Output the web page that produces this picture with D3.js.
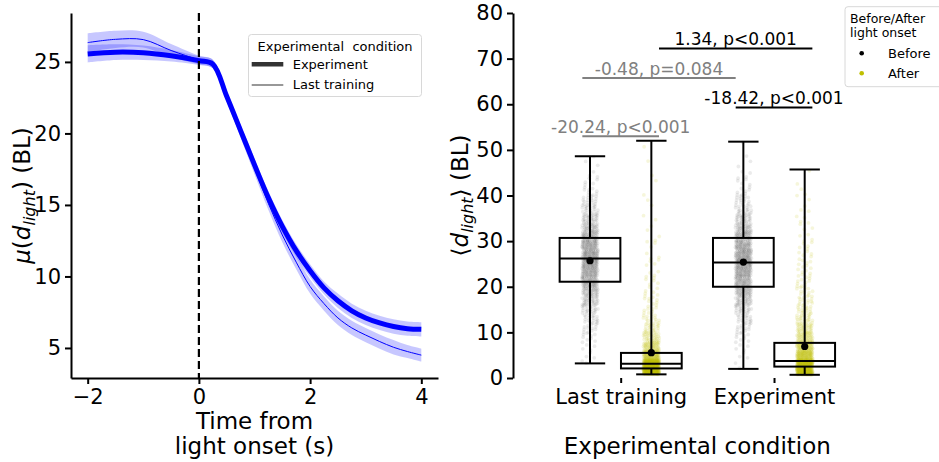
<!DOCTYPE html>
<html>
<head>
<meta charset="UTF-8">
<title>Light onset distance</title>
<script src="https://cdn.jsdelivr.net/npm/d3@7"></script>
<style>
  body { margin: 0; background: #fff; }
  svg { font-family: "DejaVu Sans", sans-serif; }
  .axis path, .axis line { stroke: #000; stroke-width: 2; }
  .axis text { font-size: 21px; fill: #000; font-family: "DejaVu Sans", sans-serif; }
</style>
</head>
<body>
<svg id="fig" width="939" height="462"></svg>
<script>

  // ---- left panel: mean distance over time ----
  var timePts = [-2, -1.5, -1, -0.5, 0, 0.25, 0.5, 0.75, 1, 1.25, 1.5, 1.75, 2, 2.25, 2.5, 2.75, 3, 3.25, 3.5, 3.75, 4];
  var expMean = [25.56, 25.68, 25.64, 25.43, 25.09, 24.85, 22.6, 20.2, 17.8, 15.5, 13.5, 11.8, 10.4, 9.2, 8.3, 7.6, 7.1, 6.75, 6.5, 6.35, 6.3];
  var expCi   = [0.6, 0.55, 0.5, 0.4, 0.3, 0.3, 0.35, 0.4, 0.45, 0.45, 0.45, 0.45, 0.45, 0.45, 0.5, 0.5, 0.5, 0.5, 0.5, 0.5, 0.5];
  var ltMean  = [26.35, 26.58, 26.56, 25.8, 25.14, 24.85, 22.6, 20.1, 17.6, 15.1, 12.9, 11.0, 9.3, 8.1, 7.1, 6.4, 5.9, 5.45, 5.05, 4.75, 4.5];
  var ltCi    = [0.65, 0.6, 0.55, 0.45, 0.3, 0.3, 0.35, 0.4, 0.45, 0.45, 0.5, 0.5, 0.5, 0.5, 0.5, 0.5, 0.5, 0.5, 0.5, 0.45, 0.45];
  var lineSeries = ['Experiment', 'Last training'];
  var lineWidths = [5, 1];
  var leftYTicks = [5, 10, 15, 20, 25];
  var leftXTicks = [-2, 0, 2, 4];

  // ---- right panel: box plots ----
  var condCats = ['Last training', 'Experiment'];
  var hueLevels = ['Before', 'After'];
  var hueColors = ['#000000', '#bfbf00'];
  var boxCat  = [0, 0, 1, 1];
  var boxHue  = [0, 1, 0, 1];
  var whisLow = [3.2, 0.8, 2.0, 0.7];
  var q1      = [21.1, 2.1, 20.0, 2.5];
  var median  = [26.2, 3.1, 25.3, 3.7];
  var q3      = [30.7, 5.5, 30.7, 7.7];
  var whisHigh = [48.6, 52.0, 51.8, 45.7];
  var means   = [25.7, 5.55, 25.4, 6.9];
  // point counts per 2-unit bin (bin lower edges below)
  var binLow = [0, 2, 4, 6, 8, 10, 12, 14, 16, 18, 20, 22, 24, 26, 28, 30, 32, 34, 36, 38, 40, 42, 44, 46, 48, 50, 52];
  var ltBeforeCounts  = [0, 2, 3, 5, 8, 12, 18, 25, 35, 45, 55, 65, 70, 70, 65, 55, 42, 32, 22, 15, 9, 5, 3, 2, 1, 0, 0];
  var ltAfterCounts   = [170, 260, 110, 60, 35, 22, 15, 10, 8, 6, 5, 4, 4, 3, 3, 2, 2, 2, 1, 1, 1, 1, 1, 1, 0, 1, 0];
  var expBeforeCounts = [0, 2, 3, 5, 8, 12, 18, 26, 36, 48, 58, 66, 70, 68, 62, 52, 40, 30, 20, 13, 8, 5, 3, 2, 1, 1, 0];
  var expAfterCounts  = [150, 220, 120, 80, 50, 35, 25, 18, 14, 11, 9, 8, 7, 6, 5, 4, 4, 3, 3, 2, 2, 1, 1, 0, 0, 0, 0];
  var pointCounts = [ltBeforeCounts, ltAfterCounts, expBeforeCounts, expAfterCounts];
  var rightYTicks = [0, 10, 20, 30, 40, 50, 60, 70, 80];

  // significance brackets
  var statLabels = ['-20.24, p<0.001', '-0.48, p=0.084', '1.34, p<0.001', '-18.42, p<0.001'];
  var statX1 = [-0.25, -0.25, 0.25, 0.75];
  var statX2 = [0.25, 0.75, 1.25, 1.25];
  var statY  = [53.0, 65.75, 72.2, 59.3];
  var statColors = ['#808080', '#808080', '#000000', '#000000'];

  var svg = d3.select('#fig');

  // ================= LEFT =================
  var xL = d3.scaleLinear().domain([-2.3, 4.3]).range([71, 438]);
  var yL = d3.scaleLinear().domain([2.9, 28.42]).range([378, 13]);
  var left = svg.append('g');

  var seriesData = [
    { mean: expMean, ci: expCi },
    { mean: ltMean, ci: ltCi }
  ];

  var area = d3.area()
    .x(function (d) { return xL(d.t); })
    .y0(function (d) { return yL(d.m - d.c); })
    .y1(function (d) { return yL(d.m + d.c); })
    .curve(d3.curveCatmullRom);
  var line = d3.line()
    .x(function (d) { return xL(d.t); })
    .y(function (d) { return yL(d.m); })
    .curve(d3.curveCatmullRom);

  var rows = seriesData.map(function (s) {
    return timePts.map(function (t, i) { return { t: t, m: s.mean[i], c: s.ci[i] }; });
  });

  rows.forEach(function (r) {
    left.append('path').attr('d', area(r))
      .attr('fill', '#0000ff').attr('fill-opacity', 0.22);
  });
  rows.forEach(function (r, i) {
    left.append('path').attr('d', line(r))
      .attr('fill', 'none').attr('stroke', '#0000ff')
      .attr('stroke-width', lineWidths[i]);
  });

  // light onset marker
  left.append('line')
    .attr('x1', xL(0)).attr('x2', xL(0))
    .attr('y1', yL.range()[1]).attr('y2', yL.range()[0])
    .attr('stroke', '#000').attr('stroke-width', 2.2)
    .attr('stroke-dasharray', '8,4');

  left.append('g').attr('class', 'axis')
    .attr('transform', 'translate(71,0)')
    .call(d3.axisLeft(yL).tickValues(leftYTicks).tickSize(6).tickPadding(4).tickSizeOuter(0));
  left.append('g').attr('class', 'axis')
    .attr('transform', 'translate(0,378)')
    .call(d3.axisBottom(xL).tickValues(leftXTicks).tickSize(6).tickPadding(5).tickSizeOuter(0)
      .tickFormat(d3.format('d')));

  // axis labels
  var xlab = left.append('text').attr('text-anchor', 'middle').style('font-size', '23px');
  xlab.append('tspan').attr('x', 254.5).attr('y', 428.5).text('Time from');
  xlab.append('tspan').attr('x', 254.5).attr('y', 453.5).text('light onset (s)');

  var ylab = left.append('text')
    .attr('transform', 'translate(30,195.5) rotate(-90)')
    .attr('text-anchor', 'middle').style('font-size', '23px');
  ylab.append('tspan').style('font-style', 'italic').text('\u03bc');
  ylab.append('tspan').text('(');
  ylab.append('tspan').style('font-style', 'italic').text('d');
  ylab.append('tspan').style('font-style', 'italic').style('font-size', '16px').attr('dy', 5).text('light');
  ylab.append('tspan').attr('dy', -5).text(') (BL)');

  // legend
  var lg = left.append('g');
  lg.append('rect').attr('x', 248.5).attr('y', 34.5).attr('width', 173).attr('height', 62)
    .attr('rx', 3).attr('fill', '#fff').attr('fill-opacity', 0.8)
    .attr('stroke', '#d8d8d8').attr('stroke-width', 1);
  lg.append('text').attr('x', 335).attr('y', 50.5).attr('text-anchor', 'middle')
    .style('font-size', '13px').style('white-space', 'pre').text('Experimental  condition');
  lineSeries.forEach(function (name, i) {
    var yy = 64.3 + i * 20.7;
    lg.append('line').attr('x1', 251.7).attr('x2', 283.3).attr('y1', yy).attr('y2', yy)
      .attr('stroke', '#333').attr('stroke-width', i === 0 ? 4.5 : 1.1);
    lg.append('text').attr('x', 292.7).attr('y', yy + 4.3)
      .style('font-size', '13px').text(name);
  });

  // ================= RIGHT =================
  var xR = d3.scaleLinear().domain([-0.5, 1.5]).range([544, 850.7]);
  var yR = d3.scaleLinear().domain([0, 80]).range([378, 13]);
  var right = svg.append('g');
  var hueOffset = [-0.2, 0.2];
  var boxW = xR(0.396) - xR(0);

  // jittered strip points (R2 low-discrepancy placement inside each bin)
  var a1 = 0.7548776662, a2 = 0.5698402910;
  pointCounts.forEach(function (counts, g) {
    var cx = xR(boxCat[g] + hueOffset[boxHue[g]]);
    var pts = [];
    var k = 0;
    counts.forEach(function (n, b) {
      var lo = Math.max(binLow[b], whisLow[g]);
      var hi = Math.min(binLow[b] + 2, whisHigh[g]);
      for (var j = 0; j < n; j++) {
        k++;
        var fx = (0.5 + k * a1) % 1;
        var fy = (0.5 + k * a2) % 1;
        pts.push({ v: lo + (hi - lo) * fy, dx: (fx - 0.5) * 16 });
      }
    });
    right.append('g').selectAll('circle').data(pts).enter().append('circle')
      .attr('cx', function (d) { return cx + d.dx; })
      .attr('cy', function (d) { return yR(d.v); })
      .attr('r', 1.9)
      .attr('fill', hueColors[boxHue[g]])
      .attr('fill-opacity', boxHue[g] === 0 ? 0.08 : 0.14);
  });

  // boxes
  boxCat.forEach(function (c, g) {
    var cx = xR(c + hueOffset[boxHue[g]]);
    var bg = right.append('g').attr('stroke', '#000').attr('stroke-width', 2).attr('fill', 'none');
    bg.append('rect').attr('x', cx - boxW / 2).attr('y', yR(q3[g]))
      .attr('width', boxW).attr('height', yR(q1[g]) - yR(q3[g]));
    bg.append('line').attr('x1', cx - boxW / 2).attr('x2', cx + boxW / 2)
      .attr('y1', yR(median[g])).attr('y2', yR(median[g]));
    bg.append('line').attr('x1', cx).attr('x2', cx).attr('y1', yR(q3[g])).attr('y2', yR(whisHigh[g]));
    bg.append('line').attr('x1', cx).attr('x2', cx).attr('y1', yR(q1[g])).attr('y2', yR(whisLow[g]));
    bg.append('line').attr('x1', cx - boxW / 4).attr('x2', cx + boxW / 4)
      .attr('y1', yR(whisHigh[g])).attr('y2', yR(whisHigh[g]));
    bg.append('line').attr('x1', cx - boxW / 4).attr('x2', cx + boxW / 4)
      .attr('y1', yR(whisLow[g])).attr('y2', yR(whisLow[g]));
    right.append('circle').attr('cx', cx).attr('cy', yR(means[g])).attr('r', 3.6).attr('fill', '#000');
  });

  // brackets
  statLabels.forEach(function (lab, i) {
    right.append('line')
      .attr('x1', xR(statX1[i])).attr('x2', xR(statX2[i]))
      .attr('y1', yR(statY[i])).attr('y2', yR(statY[i]))
      .attr('stroke', statColors[i]).attr('stroke-width', 2);
    right.append('text')
      .attr('x', xR((statX1[i] + statX2[i]) / 2)).attr('y', yR(statY[i]) - 3.3)
      .attr('text-anchor', 'middle').style('font-size', '17px')
      .attr('fill', statColors[i]).text(lab);
  });

  right.append('g').attr('class', 'axis')
    .attr('transform', 'translate(513,0)')
    .call(d3.axisLeft(yR).tickValues(rightYTicks).tickSize(6).tickPadding(4).tickSizeOuter(0));
  var xAxR = right.append('g').attr('class', 'axis')
    .attr('transform', 'translate(0,378)')
    .call(d3.axisBottom(xR).tickValues([0, 1]).tickSize(5).tickPadding(6)
      .tickFormat(function (d) { return condCats[d]; }));
  xAxR.select('.domain').remove();

  right.append('text').attr('x', xR(0.5)).attr('y', 454)
    .attr('text-anchor', 'middle').style('font-size', '23px').text('Experimental condition');

  var ylabR = right.append('text')
    .attr('transform', 'translate(468,195.5) rotate(-90)')
    .attr('text-anchor', 'middle').style('font-size', '23px');
  ylabR.append('tspan').text('\u27e8');
  ylabR.append('tspan').style('font-style', 'italic').text('d');
  ylabR.append('tspan').style('font-style', 'italic').style('font-size', '16px').attr('dy', 5).text('light');
  ylabR.append('tspan').attr('dy', -5).text('\u27e9 (BL)');

  // hue legend
  var lg2 = right.append('g');
  lg2.append('rect').attr('x', 845).attr('y', 6.7).attr('width', 100).attr('height', 80)
    .attr('rx', 3).attr('fill', '#fff').attr('fill-opacity', 0.8)
    .attr('stroke', '#d8d8d8').attr('stroke-width', 1);
  lg2.append('text').attr('x', 850).attr('y', 22.5).style('font-size', '12.5px').text('Before/After');
  lg2.append('text').attr('x', 850).attr('y', 36.5).style('font-size', '12.5px').text('light onset');
  hueLevels.forEach(function (h, i) {
    var yy = 53.3 + i * 20;
    lg2.append('circle').attr('cx', 861.7).attr('cy', yy).attr('r', 2.3).attr('fill', hueColors[i]);
    lg2.append('text').attr('x', 888).attr('y', yy + 4.7).style('font-size', '13px').text(h);
  });

</script>
</body>
</html>
